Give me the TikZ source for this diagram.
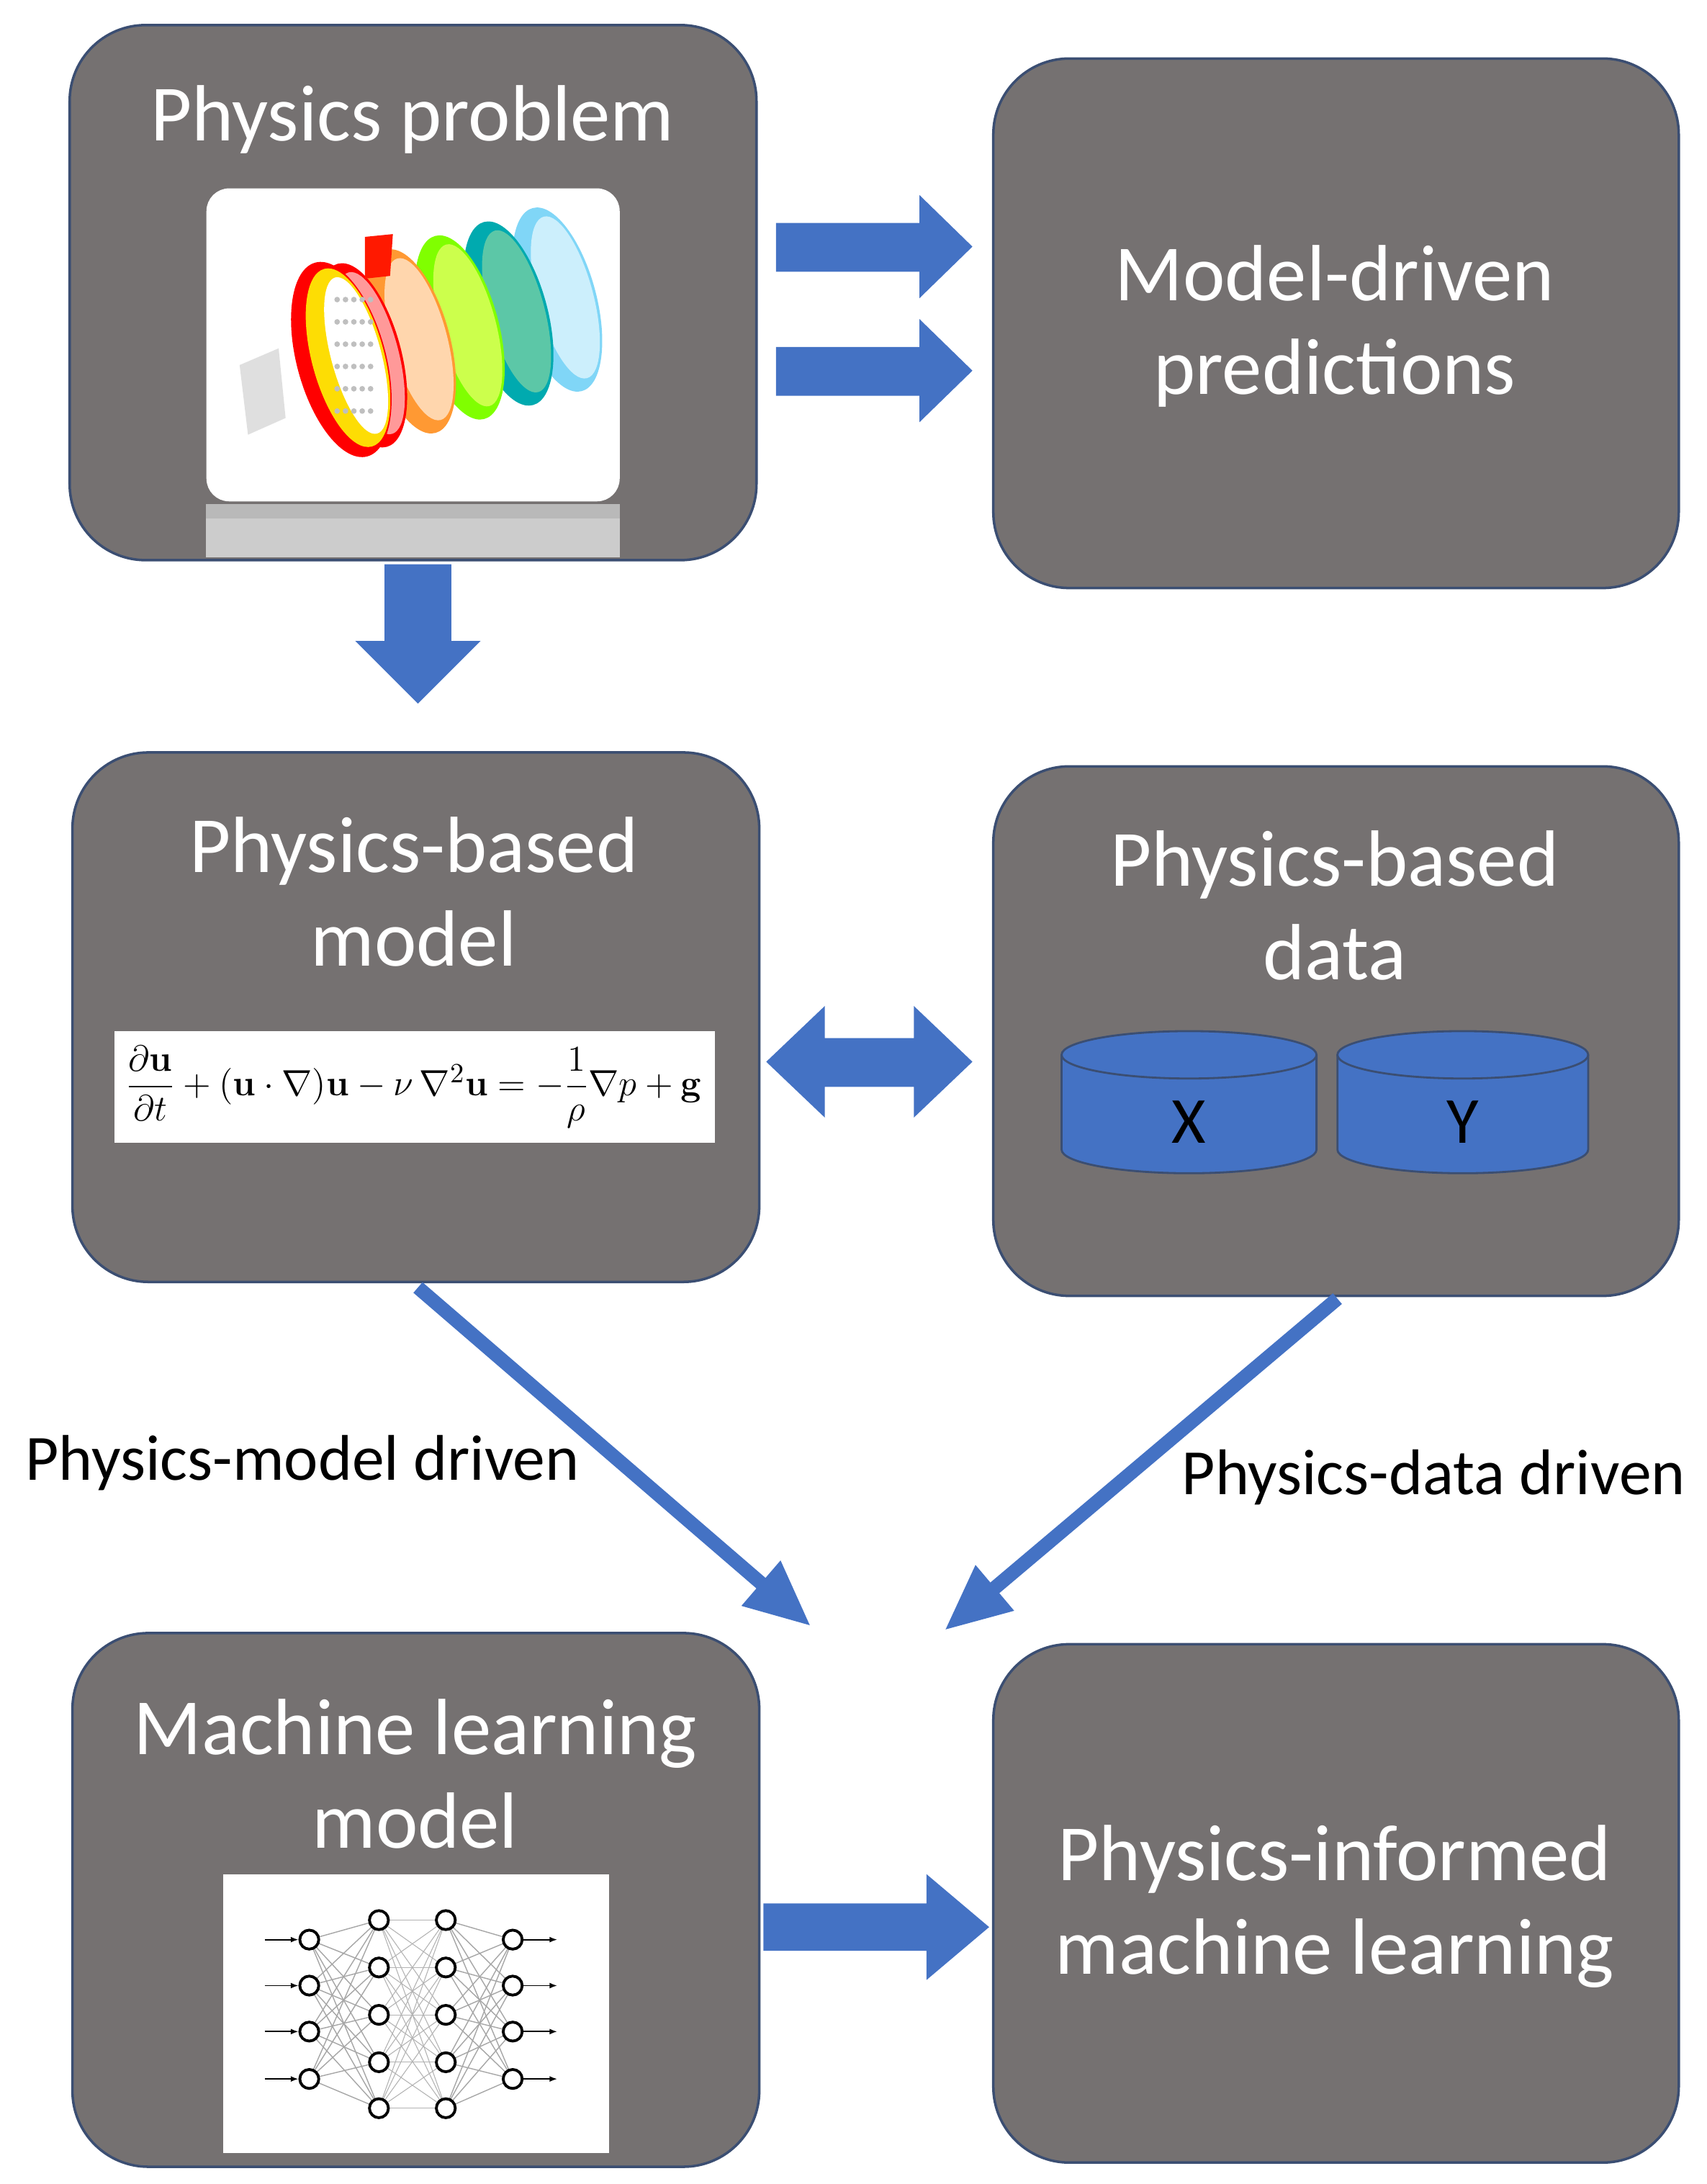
\documentclass[tikz,border=0pt]{standalone}
\usepackage{amsmath}
\usepackage[no-math]{fontspec}
\setmainfont{Carlito}
\usetikzlibrary{arrows.meta,shapes.geometric,calc}
\definecolor{boxg}{HTML}{757171}
\definecolor{bline}{HTML}{3B4E72}
\definecolor{ablue}{HTML}{4472C4}
\begin{document}
\begin{tikzpicture}[x=0.01935cm,y=-0.01935cm,
  box/.style={draw=bline,line width=1pt,fill=boxg,rounded corners=30pt},
  ttl/.style={text=white,font=\fontsize{31.5}{37}\selectfont,align=center},
  lbl/.style={font=\fontsize{25.5}{30}\selectfont},
  barrow/.style={fill=ablue},
  diag/.style={draw=ablue,line width=5.5pt,-{Triangle[length=26pt,width=22pt]}},
  neu/.style={circle,draw=black,line width=1.1pt,inner sep=0pt,minimum size=7.5pt,fill=white},
  cyl/.style={draw=bline,line width=0.8pt,fill=ablue}]
\useasboundingbox (0,0) rectangle (1225,1567.4);
% boxes
\draw[box] (50,18) rectangle (543,402);
\draw[box] (713,42) rectangle (1205,422);
\draw[box] (52,540) rectangle (545,920);
\draw[box] (713,550) rectangle (1205,930);
\draw[box] (52,1172) rectangle (545,1555);
\draw[box] (713,1180) rectangle (1205,1552);
% titles
\node[ttl] (t1) at (296,86) {Physics problem};
\node[ttl] (t2) at (958,234) {Model-driven\\predictions};
\node[ttl] (t3) at (297,640) {Physics-based\\model};
\node[ttl] (t4) at (958,650) {Physics-based\\data};
\node[ttl] (t5) at (298,1273) {Machine learning\\model};
\node[ttl] (t6) at (958,1368) {Physics-informed\\machine learning};
% picture 1
\fill[gray!55] (148,362) rectangle (445,400);
\fill[gray!40] (148,372) rectangle (445,400);
\draw[white,line width=2pt,fill=white,rounded corners=8pt] (150,137) rectangle (443,358);
\fill[gray!25] (172,262) -- (200,250) -- (205,300) -- (178,312) -- cycle;
\begin{scope}
\foreach \cx/\cy/\col in {400/215/cyan!50,365/225/cyan!60!green,330/235/green!50!yellow,295/245/orange!80,260/255/red}{
  \fill[\col,rotate around={15:(\cx,\cy)}] (\cx,\cy) ellipse (28 and 68);
  \fill[white!60!\col,rotate around={15:(\cx,\cy)}] (\cx+6,\cy) ellipse (20 and 60);
}
\fill[red,rotate around={15:(245,258)}] (245,258) ellipse (32 and 72);
\fill[yellow!80!orange,rotate around={15:(245,258)}] (250,258) ellipse (26 and 66);
\fill[white,rotate around={15:(245,258)}] (256,258) ellipse (18 and 58);
\foreach \i in {0,...,4}{\foreach \j in {0,...,5}{\fill[gray!50] (242+\i*6,215+\j*16) circle (2);}}
\fill[red!80!orange] (262,170) -- (262,200) -- (280,198) -- (282,168) -- cycle;
\end{scope}
% arrows top
\fill[barrow] (557,160) -- (660,160) -- (660,140) -- (698,177) -- (660,214) -- (660,195) -- (557,195) -- cycle;
\fill[barrow] (557,249) -- (660,249) -- (660,229) -- (698,266) -- (660,303) -- (660,284) -- (557,284) -- cycle;
\fill[barrow] (276,405) -- (324,405) -- (324,460) -- (345,460) -- (300,505) -- (255,460) -- (276,460) -- cycle;
% double arrow
\fill[barrow] (550,762) -- (592,722) -- (592,745) -- (656,745) -- (656,722) -- (698,762) -- (656,802) -- (656,780) -- (592,780) -- (592,802) -- cycle;
% bottom arrow
\fill[barrow] (548,1366) -- (665,1366) -- (665,1345) -- (710,1383) -- (665,1421) -- (665,1400) -- (548,1400) -- cycle;
% equation
\fill[white] (82,740) rectangle (513,820);
\node (eq) at (297,780) {\fontsize{15.5}{18}\selectfont$\dfrac{\partial\mathbf{u}}{\partial t}+(\mathbf{u}\cdot\nabla)\mathbf{u}-\nu\,\nabla^2\mathbf{u}=-\dfrac{1}{\rho}\nabla p+\mathbf{g}$};
% cylinders
\foreach \n/\xa/\xb/\L in {cx/762/945/X,cy/960/1140/Y}{
  \draw[cyl] (\xa,757) -- (\xa,825) arc[start angle=180,end angle=0,x radius={(\xb-\xa)/2},y radius=17] -- (\xb,757);
  \draw[cyl] ({(\xa+\xb)/2},757) ellipse ({(\xb-\xa)/2} and 17);
  \node[font=\fontsize{26}{30}\selectfont] (\n) at ({(\xa+\xb)/2},805) {\L};
}
% diagonal arrows
\coordinate (d1) at (300,924);
\coordinate (d1e) at (582,1167);
\coordinate (d2) at (960,932);
\coordinate (d2e) at (678,1170);
\draw[diag] (d1) -- (d1e);
\draw[diag] (d2) -- (d2e);
\node[lbl,anchor=west] (l1) at (12,1050) {Physics-model driven};
\node[lbl,anchor=west] (l2) at (842,1060) {Physics-data driven};
% NN
\fill[white] (160,1345) rectangle (437,1545);
\foreach \k/\y in {1/1392,2/1425,3/1458,4/1492}{\coordinate (a\k) at (222,\y); \coordinate (d\k) at (368,\y);}
\foreach \k/\y in {1/1378,2/1412,3/1446,4/1480,5/1513}{\coordinate (b\k) at (272,\y); \coordinate (c\k) at (320,\y);}
\foreach \i in {1,...,4}{\foreach \j in {1,...,5}{\draw[gray!70,line width=0.4pt] (a\i) -- (b\j); \draw[gray!70,line width=0.4pt] (c\j) -- (d\i);}}
\foreach \i in {1,...,5}{\foreach \j in {1,...,5}{\draw[gray!60,line width=0.3pt] (b\i) -- (c\j);}}
\foreach \k in {1,...,4}{
  \node[neu] (na\k) at (a\k) {}; \node[neu] (nd\k) at (d\k) {};
  \coordinate (in\k) at ($(a\k)+(-32,0)$);
  \coordinate (out\k) at ($(d\k)+(32,0)$);
  \draw[-{Latex[length=3pt]},line width=0.5pt] (in\k) -- (na\k);
  \draw[-{Latex[length=3pt]},line width=0.5pt] (nd\k) -- (out\k);
}
\foreach \k in {1,...,5}{\node[neu] (nb\k) at (b\k) {}; \node[neu] (nc\k) at (c\k) {};}
\end{tikzpicture}
\end{document}
